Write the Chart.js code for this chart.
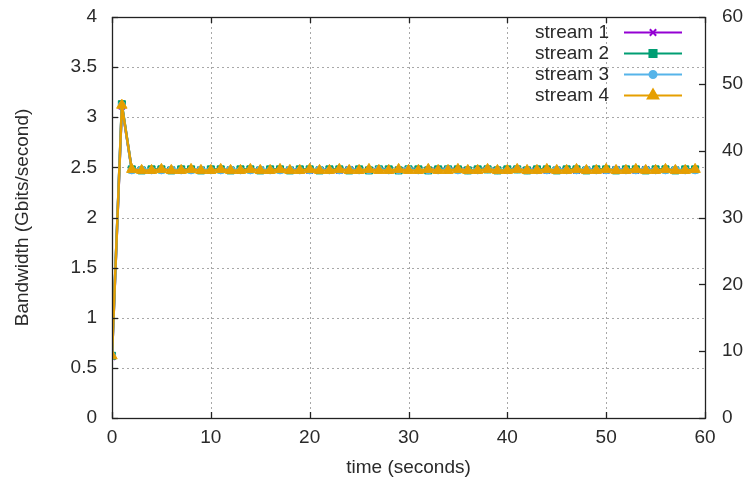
<!DOCTYPE html>
<html>
<head>
<meta charset="utf-8">
<script src="https://cdn.jsdelivr.net/npm/chart.js@4.4.1/dist/chart.umd.min.js"></script>
<style>
html,body{margin:0;padding:0;background:#fff;}
#wrap{width:748px;height:481px;position:relative;}
</style>
</head>
<body>
<div id="wrap"><canvas id="c"></canvas></div>
<script>
const time = [0,1,2,3,4,5,6,7,8,9,10,11,12,13,14,15,16,17,18,19,20,21,22,23,24,25,26,27,28,29,30,31,32,33,34,35,36,37,38,39,40,41,42,43,44,45,46,47,48,49,50,51,52,53,54,55,56,57,58,59];
const streamNames = ["stream 1","stream 2","stream 3","stream 4"];
const stream1 = [0.61,3.11,2.48,2.47,2.47,2.48,2.47,2.47,2.48,2.47,
                 2.47,2.48,2.47,2.47,2.48,2.47,2.47,2.48,2.47,2.48,
                 2.47,2.47,2.48,2.47,2.48,2.47,2.47,2.48,2.47,2.47,
                 2.48,2.47,2.47,2.48,2.47,2.48,2.47,2.47,2.48,2.47,
                 2.47,2.48,2.47,2.48,2.47,2.47,2.48,2.47,2.47,2.48,
                 2.47,2.48,2.47,2.47,2.48,2.47,2.48,2.47,2.47,2.48];
const stream2 = [0.62,3.13,2.48,2.47,2.48,2.48,2.47,2.48,2.48,2.47,
                 2.48,2.48,2.47,2.48,2.48,2.47,2.48,2.48,2.47,2.48,
                 2.48,2.47,2.48,2.48,2.47,2.48,2.47,2.48,2.48,2.47,
                 2.48,2.48,2.47,2.48,2.48,2.48,2.47,2.48,2.48,2.47,
                 2.48,2.48,2.47,2.48,2.48,2.47,2.48,2.48,2.47,2.48,
                 2.48,2.47,2.48,2.48,2.47,2.48,2.48,2.47,2.48,2.48];
const stream3 = [0.62,3.12,2.47,2.48,2.47,2.47,2.48,2.47,2.47,2.48,
                 2.47,2.47,2.48,2.47,2.47,2.48,2.47,2.47,2.48,2.47,
                 2.47,2.48,2.47,2.47,2.48,2.47,2.47,2.48,2.47,2.47,
                 2.48,2.47,2.47,2.47,2.48,2.47,2.47,2.47,2.48,2.47,
                 2.47,2.48,2.47,2.47,2.47,2.48,2.47,2.47,2.48,2.47,
                 2.47,2.48,2.47,2.47,2.48,2.47,2.47,2.48,2.47,2.47];
const stream4 = [0.62,3.12,2.48,2.47,2.47,2.48,2.47,2.47,2.48,2.47,
                 2.47,2.48,2.47,2.47,2.48,2.47,2.47,2.48,2.47,2.47,
                 2.48,2.47,2.47,2.48,2.47,2.47,2.48,2.47,2.47,2.48,
                 2.47,2.47,2.48,2.47,2.47,2.48,2.47,2.47,2.48,2.47,
                 2.47,2.48,2.47,2.47,2.48,2.47,2.47,2.48,2.47,2.47,
                 2.48,2.47,2.47,2.48,2.47,2.47,2.48,2.47,2.47,2.48];
const xTicks = [0,10,20,30,40,50,60];
const yTicks = [0,0.5,1,1.5,2,2.5,3,3.5,4];
const y2Ticks = [0,10,20,30,40,50,60];

const FONT = "'Liberation Sans', Arial, sans-serif";
const TXT = '#2a2a2a';
const colors = ['#9400d3','#009e73','#56b4e9','#e69f00'];
const pStyles = ['crossRot','rect','circle','triangle'];
const pRadius = [4.5,5,3.5,6];
const allSeries = [stream1,stream2,stream3,stream4];

const datasets = allSeries.map((s,i)=>({
  label: streamNames[i],
  data: time.map((t,k)=>({x:t,y:s[k]})),
  borderColor: colors[i],
  backgroundColor: colors[i],
  borderWidth: 2.5,
  pointStyle: pStyles[i],
  pointRadius: pRadius[i],
  pointBorderWidth: i===0?1.5:1,
  pointBackgroundColor: colors[i],
  pointBorderColor: colors[i],
  tension: 0,
  yAxisID: 'y',
  order: 4-i
}));

function zeroPad(s){ s.paddingTop=0; s.paddingBottom=0; s.paddingLeft=0; s.paddingRight=0; }

const framePlugin = {
  id:'frame',
  beforeDatasetsDraw(chart){
    const {ctx, chartArea:a, scales} = chart;
    ctx.save();
    ctx.strokeStyle = '#a8a8a8';
    ctx.lineWidth = 1;
    ctx.setLineDash([2,3]);
    xTicks.forEach(v=>{ if(v<=0||v>=60) return;
      const x = Math.round(scales.x.getPixelForValue(v))+0.5;
      ctx.beginPath(); ctx.moveTo(x,a.top); ctx.lineTo(x,a.bottom); ctx.stroke();});
    yTicks.forEach(v=>{ if(v<=0||v>=4) return;
      const y = Math.round(scales.y.getPixelForValue(v))+0.5;
      ctx.beginPath(); ctx.moveTo(a.left,y); ctx.lineTo(a.right,y); ctx.stroke();});
    ctx.restore();
  },
  afterDatasetsDraw(chart){
    const {ctx, chartArea:a, scales} = chart;
    ctx.save();
    ctx.strokeStyle = '#222';
    ctx.lineWidth = 1.3;
    ctx.setLineDash([]);
    ctx.strokeRect(Math.round(a.left)+0.5, Math.round(a.top)+0.5, Math.round(a.right-a.left), Math.round(a.bottom-a.top));
    const L = 6;
    xTicks.forEach(v=>{
      const x = Math.round(scales.x.getPixelForValue(v))+0.5;
      ctx.beginPath(); ctx.moveTo(x,a.bottom); ctx.lineTo(x,a.bottom-L);
      ctx.moveTo(x,a.top); ctx.lineTo(x,a.top+L); ctx.stroke();});
    yTicks.forEach(v=>{
      const y = Math.round(scales.y.getPixelForValue(v))+0.5;
      ctx.beginPath(); ctx.moveTo(a.left,y); ctx.lineTo(a.left+L,y); ctx.stroke();});
    y2Ticks.forEach(v=>{
      const y = Math.round(scales.y2.getPixelForValue(v))+0.5;
      ctx.beginPath(); ctx.moveTo(a.right,y); ctx.lineTo(a.right-L,y); ctx.stroke();});
    ctx.restore();
  },
  afterDraw(chart){
    const {ctx} = chart;
    ctx.save();
    ctx.font = '19px ' + FONT;
    ctx.textAlign = 'right';
    ctx.textBaseline = 'middle';
    chart.data.datasets.forEach((ds,i)=>{
      const y = 32 + i*21;
      ctx.fillStyle = TXT;
      ctx.fillText(ds.label, 609, y+1);
      ctx.strokeStyle = ds.borderColor;
      ctx.lineWidth = 2;
      ctx.beginPath(); ctx.moveTo(624,y+0.5); ctx.lineTo(682,y+0.5); ctx.stroke();
      ctx.fillStyle = ds.backgroundColor;
      if (Chart.helpers && Chart.helpers.drawPoint) {
        Chart.helpers.drawPoint(ctx,{pointStyle:ds.pointStyle, radius:ds.pointRadius, rotation:0, borderWidth:ds.pointBorderWidth}, 653, y+0.5);
      }
    });
    ctx.restore();
  }
};

new Chart(document.getElementById('c'),{
  type:'line',
  data:{datasets},
  plugins:[framePlugin],
  options:{
    responsive:true,
    maintainAspectRatio:false,
    animation:false,
    layout:{padding:{top:17,right:0,left:0,bottom:0}},
    plugins:{legend:{display:false},tooltip:{enabled:false}},
    scales:{
      x:{type:'linear',min:0,max:60,
        afterBuildTicks(s){ s.ticks = xTicks.map(v=>({value:v})); },
        afterFit(s){ s.height = 63; zeroPad(s); },
        grid:{display:false,drawTicks:false}, border:{display:false},
        ticks:{color:TXT,font:{family:FONT,size:19},padding:8,maxRotation:0,callback:v=>String(v)},
        title:{display:true,text:'time (seconds)',color:TXT,font:{family:FONT,size:19},padding:{top:0,bottom:2}}
      },
      y:{type:'linear',position:'left',min:0,max:4,
        afterBuildTicks(s){ s.ticks = yTicks.map(v=>({value:v})); },
        afterFit(s){ s.width = 112; zeroPad(s); },
        grid:{display:false,drawTicks:false}, border:{display:false},
        ticks:{color:TXT,font:{family:FONT,size:19},padding:15,callback:v=>String(v)},
        title:{display:true,text:'Bandwidth (Gbits/second)',color:TXT,font:{family:FONT,size:19},padding:{top:11,bottom:0}}
      },
      y2:{type:'linear',position:'right',min:0,max:60,
        afterBuildTicks(s){ s.ticks = y2Ticks.map(v=>({value:v})); },
        afterFit(s){ s.width = 43; zeroPad(s); },
        grid:{display:false,drawTicks:false}, border:{display:false},
        ticks:{color:TXT,font:{family:FONT,size:19},padding:17,callback:v=>String(v)}
      }
    }
  }
});
</script>
</body>
</html>
